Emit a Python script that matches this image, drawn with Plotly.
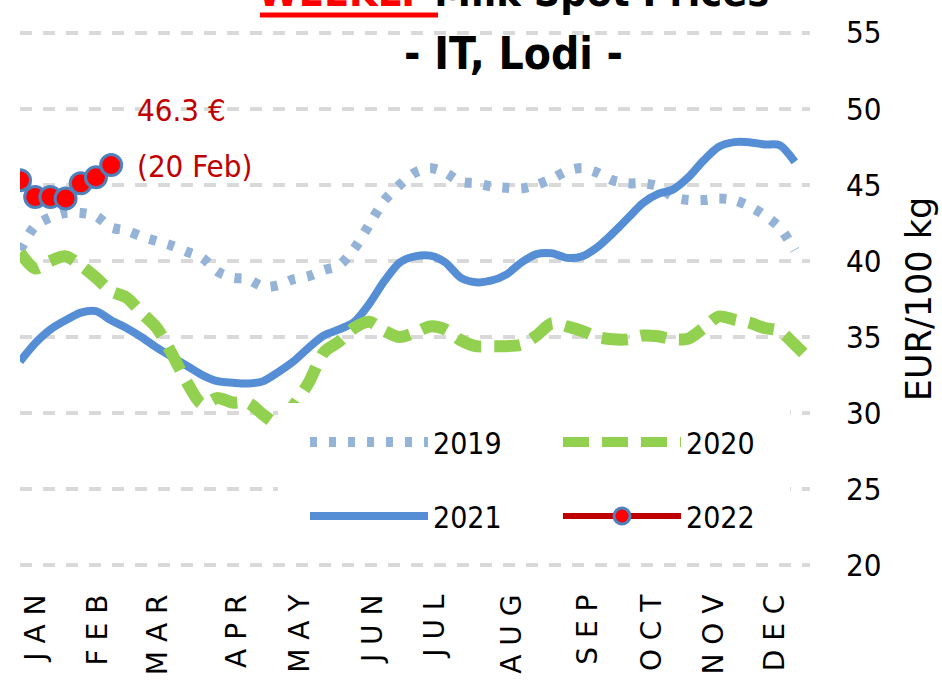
import plotly.graph_objects as go

# ---------------- data ----------------
months = ["JAN", "FEB", "MAR", "APR", "MAY", "JUN", "JUL", "AUG", "SEP", "OCT", "NOV", "DEC"]
month_weeks = [1.05, 5.1, 9.1, 14.3, 18.4, 23.2, 27.3, 32.4, 37.4, 41.6, 45.7, 49.7]

price_2019 = [40.7, 42.3, 42.85, 43.15, 43.15, 42.95, 42.2, 42.0, 41.6, 41.3,
              41.0, 40.6, 40.2, 39.3, 38.9, 38.8, 38.3, 38.4, 38.8, 39.0,
              39.4, 39.7, 40.8, 42.4, 44.0, 45.0, 45.8, 46.1, 45.8, 45.2,
              45.1, 44.9, 44.8, 44.75, 45.0, 45.4, 45.9, 46.1, 45.8, 45.3,
              45.1, 45.1, 44.9, 44.2, 44.0, 44.0, 44.1, 44.0, 43.6, 43.0,
              42.2, 40.7]
price_2020 = [40.55, 39.5, 40.0, 40.3, 39.7, 38.9, 38.0, 37.6, 36.6, 35.6,
              33.9, 32.0, 30.6, 31.0, 30.7, 30.7, 29.9, 29.3, 30.5, 32.0,
              34.0, 34.7, 35.6, 36.0, 35.4, 35.0, 35.3, 35.7, 35.5, 34.8,
              34.4, 34.4, 34.4, 34.5, 35.1, 35.9, 35.7, 35.4, 35.0, 34.85,
              34.85, 35.1, 35.05, 34.85, 34.9, 35.6, 36.35, 36.15, 35.95, 35.6,
              35.4, 34.5, 33.5]
price_2021 = [33.4, 34.6, 35.5, 36.1, 36.6, 36.7, 36.1, 35.6, 35.0, 34.3,
              33.7, 33.1, 32.5, 32.1, 32.0, 31.95, 32.1, 32.7, 33.4, 34.3,
              35.1, 35.5, 36.0, 37.2, 38.7, 39.9, 40.3, 40.35, 39.9, 38.9,
              38.6, 38.7, 39.1, 39.9, 40.45, 40.5, 40.2, 40.3, 40.9, 41.8,
              42.8, 43.8, 44.4, 44.7, 45.5, 46.6, 47.5, 47.8, 47.8, 47.65,
              47.6, 46.5]
price_2022 = [45.3, 44.2, 44.2, 44.1, 45.1, 45.5, 46.3]
last_date_2022 = "20 Feb"

# ---------------- layout helpers ----------------
W, H = 942, 682
L, R, T, B = 20, 810, 31, 567          # plot area in px
Y_RANGE = [19.9, 55.1]                 # small padding so the 20 / 55 gridlines are drawn


def px_x(x):
    return (x - L) / (R - L)


def px_y(y):
    return (B - y) / (B - T)


NARROW = "Liberation Sans Narrow, DejaVu Sans Condensed, sans-serif"

fig = go.Figure()

fig.add_trace(go.Scatter(
    x=list(range(len(price_2019))), y=price_2019, name="2019", mode="lines",
    line=dict(color="#95B3D7", width=10, dash="7px,12px", shape="spline", smoothing=0.8),
    legend="legend"))
fig.add_trace(go.Scatter(
    x=list(range(len(price_2021))), y=price_2021, name="2021", mode="lines",
    line=dict(color="#558ED5", width=8, shape="spline", smoothing=0.8),
    legend="legend2"))
fig.add_trace(go.Scatter(
    x=list(range(len(price_2020))), y=price_2020, name="2020", mode="lines",
    line=dict(color="#92D050", width=12, dash="26px,13px", shape="spline", smoothing=0.8),
    legend="legend"))
fig.add_trace(go.Scatter(
    x=list(range(len(price_2022))), y=price_2022, name="2022", mode="lines+markers",
    line=dict(color="#C00000", width=6, shape="spline", smoothing=0.8),
    marker=dict(size=21, color="#FF0000", line=dict(color="#4F81BD", width=3)),
    legend="legend2"))

legend_common = dict(
    orientation="h", xanchor="left", yanchor="middle",
    xref="container", yref="container",
    bgcolor="rgba(0,0,0,0)", itemwidth=118, entrywidth=120,
    font=dict(family=NARROW, size=30, color="black"),
    itemclick=False, itemdoubleclick=False)

shapes = [
    # white legend box
    dict(type="rect", xref="paper", yref="paper", layer="above",
         x0=px_x(278), x1=px_x(790), y0=px_y(560), y1=px_y(403),
         fillcolor="white", line=dict(width=0)),
    # red underline of WEEKLY
    dict(type="rect", xref="paper", yref="paper", layer="above",
         x0=px_x(260), x1=px_x(438), y0=px_y(17.5), y1=px_y(12.5),
         fillcolor="#FF0000", line=dict(width=0)),
]

annotations = [
    dict(xref="paper", yref="paper", x=px_x(513), y=px_y(-8), xanchor="center", yanchor="middle",
         showarrow=False,
         text="<span style='color:#FF0000'>WEEKLY</span> Milk Spot Prices",
         font=dict(family=NARROW, size=41, color="black", weight="bold")),
    dict(xref="paper", yref="paper", x=px_x(513), y=px_y(54), xanchor="center", yanchor="middle",
         showarrow=False, text="- IT, Lodi -",
         font=dict(family=NARROW, size=44, color="black", weight="bold")),
    dict(xref="paper", yref="paper", x=px_x(135), y=px_y(110), xanchor="left", yanchor="middle",
         showarrow=False, text=f"{price_2022[-1]:.1f} €",
         font=dict(family=NARROW, size=31, color="#C00000")),
    dict(xref="paper", yref="paper", x=px_x(135), y=px_y(166), xanchor="left", yanchor="middle",
         showarrow=False, text=f"({last_date_2022})",
         font=dict(family=NARROW, size=31, color="#C00000")),
]

fig.update_layout(
    width=W, height=H,
    margin=dict(l=L, r=W - R, t=T, b=H - B, pad=0, autoexpand=False),
    paper_bgcolor="white", plot_bgcolor="white",
    showlegend=True,
    legend=dict(x=305 / W, y=1 - 442 / H, **legend_common),
    legend2=dict(x=305 / W, y=1 - 516 / H, **legend_common),
    shapes=shapes, annotations=annotations,
    hovermode=False,
    xaxis=dict(range=[0, 52], showgrid=False, zeroline=False, showline=False,
               automargin=False,
               tickmode="array", tickvals=month_weeks,
               ticktext=[" ".join(m) for m in months], tickangle=-90,
               ticks="", ticklabelstandoff=21,
               tickfont=dict(family="DejaVu Sans", size=28, color="black")),
    yaxis=dict(range=Y_RANGE, tick0=20, dtick=5, side="right", showgrid=True,
               automargin=False,
               gridcolor="#D9D9D9", gridwidth=4, griddash="12px,11px",
               zeroline=False, showline=False, ticks="", ticklabelstandoff=35,
               tickfont=dict(family=NARROW, size=31, color="black")),
)
fig.update_yaxes(title=dict(text="EUR/100 kg", standoff=26,
                            font=dict(family="DejaVu Sans", size=35, color="black")))

fig.write_html("out.html", config={"displayModeBar": False},
               post_script="document.body.style.margin='0';")
